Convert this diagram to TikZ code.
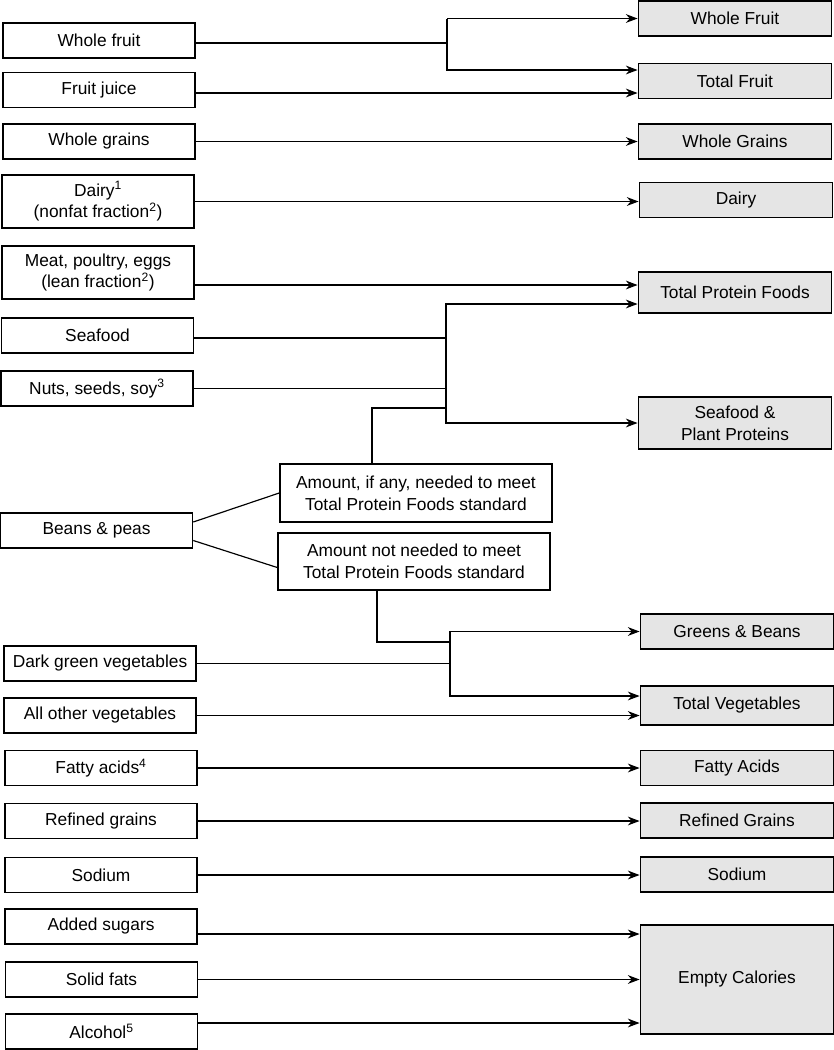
\documentclass[tikz,border=0pt]{standalone}
\usepackage{fontspec}
\setmainfont{Liberation Sans}
\usetikzlibrary{arrows.meta,calc}

\begin{document}
\begin{tikzpicture}[x=0.03cm,y=-0.03cm,line width=1pt,
  font=\fontsize{14.8}{18.5}\selectfont,
  box/.style={draw,line width=1.3pt,align=center,inner sep=0pt,minimum height=1.05cm},
  food/.style={box,minimum width=5.76cm},
  comp/.style={box,fill=black!10,minimum width=5.8cm},
  tall/.style={minimum height=1.59cm},
  arr/.style={-{Stealth[length=10pt,width=7.5pt]}}]
\useasboundingbox (0,0) rectangle (834,1050);

% food groups
\node[food](wfruit) at (99,40.5){Whole fruit};
\node[food](juice) at (99,90){Fruit juice};
\node[food](wgrains) at (99,141.5){Whole grains};
\node[food,tall](dairy) at (98,201.5){Dairy\textsuperscript{1}\\(nonfat fraction\textsuperscript{2})};
\node[food,tall](meat) at (98,272.5){Meat, poultry, eggs\\(lean fraction\textsuperscript{2})};
\node[food](seafood) at (97.5,335.5){Seafood};
\node[food](nuts) at (97,388.5){Nuts, seeds, soy\textsuperscript{3}};
\node[food](beans) at (96.5,530.5){Beans \& peas};
\node[box,minimum width=8.16cm,minimum height=1.74cm](amt) at (416,493){Amount, if any, needed to meet\\Total Protein Foods standard};
\node[box,minimum width=8.16cm,minimum height=1.71cm](namt) at (414,561.5){Amount not needed to meet\\Total Protein Foods standard};
\node[food](dkgreen) at (100,663.5){Dark green vegetables};
\node[food](othveg) at (100,715.5){All other vegetables};
\node[food](fatty) at (101,768){Fatty acids\textsuperscript{4}};
\node[food](refined) at (101,821){Refined grains};
\node[food](sodium) at (101,875){Sodium};
\node[food](sugars) at (101,926.5){Added sugars};
\node[food](solid) at (101.5,979.5){Solid fats};
\node[food](alcohol) at (101.5,1031.5){Alcohol\textsuperscript{5}};

% index components
\node[comp](WF) at (735,18.5){Whole Fruit};
\node[comp](TF) at (735,81){Total Fruit};
\node[comp](WG) at (735,141.5){Whole Grains};
\node[comp](DA) at (736,200){Dairy};
\node[comp,minimum height=1.23cm](TPF) at (735,292.5){Total Protein Foods};
\node[comp,minimum height=1.56cm](SPP) at (735,423){Seafood \&\\Plant Proteins};
\node[comp](GB) at (737,631.5){Greens \& Beans};
\node[comp,minimum height=1.17cm](TV) at (737,705.5){Total Vegetables};
\node[comp](FA) at (737,768){Fatty Acids};
\node[comp](RG) at (737,820.5){Refined Grains};
\node[comp](SO) at (737,874.5){Sodium};
\node[comp,minimum height=3.27cm](EC) at (737,979.5){Empty Calories};

\coordinate(jfruit) at (447,43);
\coordinate(jprot) at (446,338);
\coordinate(jbean) at (372,408);
\coordinate(jgreen) at (377,642);
\coordinate(jveg) at (450,663);

% fruit
\draw (wfruit.east |- jfruit) -- (jfruit);
\draw[arr] (jfruit |- WF.west) -- (WF.west);
\draw[arr] (jfruit |- WF.west) |- ($(TF.west)+(0,-11)$);
\draw[arr] ($(juice.east)+(0,3)$) -- ($(TF.west)+(0,12)$);
\draw[arr] (wgrains.east) -- (WG.west);
\draw[arr] (dairy.east) -- (dairy.east -| DA.west);

% protein
\draw[arr] ($(meat.east)+(0,12.5)$) -- ($(TPF.west)+(0,-7.5)$);
\draw (seafood.east |- jprot) -- (jprot);
\draw (nuts.east) -- (nuts.east -| jprot);
\draw[arr] (jprot) |- ($(TPF.west)+(0,11.5)$);
\draw[arr] (jprot) |- (SPP.west);
\draw ($(beans.east)+(0,-8.5)$) -- (amt.west);
\draw ($(beans.east)+(0,10)$) -- ($(namt.west)+(0,6)$);
\draw (amt.north -| jbean) |- (jbean -| jprot);

% vegetables
\draw (namt.south -| jgreen) |- (jgreen -| jveg);
\draw (dkgreen.east) -- (dkgreen.east -| jveg);
\draw[arr] (jveg) |- (GB.west);
\draw[arr] (jveg) |- ($(TV.west)+(0,-9.5)$);
\draw[arr] (othveg.east) -- (othveg.east -| TV.west);

% moderation
\draw[arr] (fatty.east) -- (FA.west);
\draw[arr] (refined.east) -- (refined.east -| RG.west);
\draw[arr] (sodium.east) -- (sodium.east -| SO.west);
\draw[arr] ($(sugars.east)+(0,7.5)$) -- ($(EC.west)+(0,-45.5)$);
\draw[arr] (solid.east) -- (EC.west);
\draw[arr] ($(alcohol.east)+(0,-8.5)$) -- ($(EC.west)+(0,43.5)$);
\end{tikzpicture}
\end{document}
